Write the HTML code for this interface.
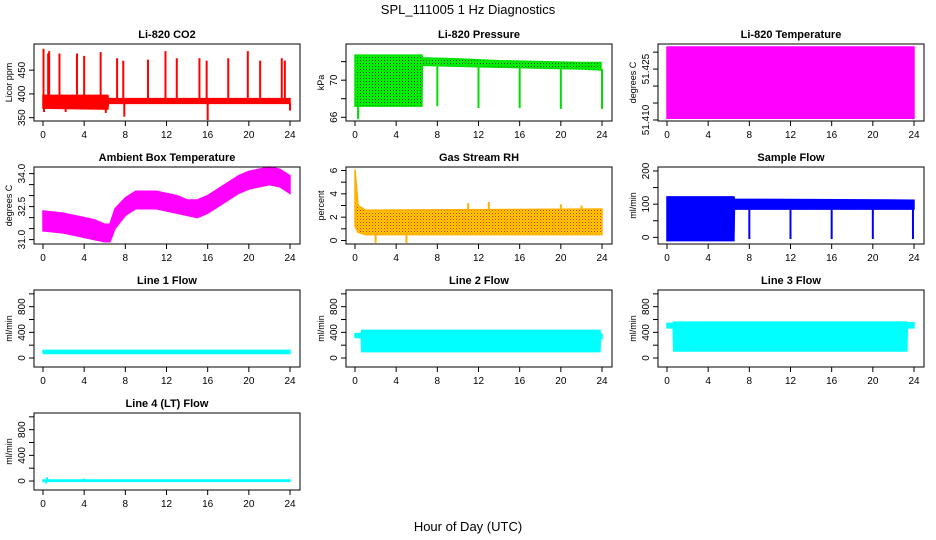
<!DOCTYPE html>
<html><head><meta charset="utf-8"><style>
html,body{margin:0;padding:0;background:#fff}
svg{display:block;font-family:"Liberation Sans",Arial,sans-serif}
</style></head><body>
<svg id="fig" width="936" height="540" viewBox="0 0 936 540">
<defs>
<pattern id="pgreen" width="3" height="3" patternUnits="userSpaceOnUse"><rect width="3" height="3" fill="#00ee00"/><rect width="1" height="1" fill="#004000"/></pattern>
<pattern id="porange" width="3" height="3" patternUnits="userSpaceOnUse"><rect width="3" height="3" fill="#ffd000"/><rect width="1" height="1" fill="#ff2000"/><rect x="1.5" y="1.5" width="1" height="1" fill="#ff6000"/></pattern>
</defs>
<text x="468" y="14" font-size="13" text-anchor="middle">SPL_111005  1 Hz Diagnostics</text>
<text x="468" y="531" font-size="13" text-anchor="middle">Hour of Day (UTC)</text>
</svg>
<script>
// ---- data (hour, low, high) envelopes and spikes [hour, value] ----
const xTicks = [0,4,8,12,16,20,24];
const co2Hours = [0,6.3,6.35,24];
const co2Low = [370,368,380,380];
const co2High = [397,397,390,390];
const co2Spikes = [[0.05,495],[0.5,485],[0.6,490],[1.6,485],[3.3,485],[4.0,480],[5.6,488],[7.2,475],[7.8,470],[10.2,472],[11.9,490],[13.0,475],[15.2,475],[15.9,470],[18.0,475],[19.9,490],[21.1,470],[23.2,475],[23.5,470],[16.0,345],[7.9,352],[0.1,362],[24,365],[2.2,362],[6.1,360]];
const presHours = [0,6.5,6.55,10,14,18,22,23.9];
const presLow = [67.2,67.2,71.6,71.5,71.4,71.3,71.2,71.1];
const presHigh = [72.7,72.7,72.4,72.3,72.1,72.0,71.9,71.9];
const presSpikes = [[0.3,65.8],[8,67.2],[12,67],[16,67],[20,66.9],[24,66.9]];
const tempHours = [0,24];
const tempLow = [51.4105,51.4105];
const tempHigh = [51.4315,51.4315];
const ambHours = [0,2,4,5,6,6.5,7,8,9,11,13,14,15,16,17,18,19,20,21,22,23,24];
const ambLow = [31.4,31.3,31.1,31.0,30.9,30.9,31.5,32.1,32.4,32.4,32.2,32.1,32.0,32.2,32.5,32.8,33.1,33.3,33.4,33.5,33.4,33.1];
const ambHigh = [32.3,32.2,32.0,31.9,31.7,31.7,32.4,32.9,33.2,33.2,33.0,32.8,32.8,33.0,33.3,33.6,33.9,34.1,34.2,34.3,34.2,33.9];
const rhHours = [0,0.3,1,24];
const rhLow = [1.2,0.7,0.5,0.5];
const rhHigh = [6.1,3.0,2.6,2.7];
const rhSpikes = [[2,-0.2],[5,-0.2],[11,3.2],[13,3.3],[20,3.1],[22,3.0]];
const sfHours = [0,6.5,6.55,24];
const sfLow = [-10,-10,85,85];
const sfHigh = [122,122,115,112];
const sfSpikes = [[8,-5],[12,-5],[16,-5],[20,-5],[23.9,-5]];
const l1Hours = [0,24];
const l1Low = [70,70];
const l1High = [120,120];
const l2Hours = [0,0.6,0.65,23.8,23.85,24];
const l2Low = [320,320,100,100,300,300];
const l2High = [380,380,430,430,370,370];
const l3Hours = [0,0.6,0.65,23.3,23.35,24];
const l3Low = [470,470,110,110,470,470];
const l3High = [540,540,560,560,550,550];
const l4Hours = [0,24];
const l4Low = [-5,-5];
const l4High = [15,15];
const l4Spikes = [[0.4,60],[0.3,-40],[4,40]];

const NS = "http://www.w3.org/2000/svg";
const svg = document.getElementById('fig');
function mk(tag, attrs, parent){const e=document.createElementNS(NS,tag);for(const k in attrs)e.setAttribute(k,attrs[k]);(parent||svg).appendChild(e);return e;}

function panel(o){
  const L=o.left, T=o.top, W=266, H=77;
  const g=mk('g',{});
  
  
  const xs=h=>L+9+h*(247/24);
  const ys=v=>T+H-(v-o.ymin)/(o.ymax-o.ymin)*H;
  const t=mk('text',{x:L+W/2,y:T-6,'font-size':11,'font-weight':'bold','text-anchor':'middle'},g);
  t.textContent=o.title;
  
  
  let pts=[];
  for(let i=0;i<o.hours.length;i++)pts.push(xs(o.hours[i])+','+ys(o.high[i]));
  for(let i=o.hours.length-1;i>=0;i--)pts.push(xs(o.hours[i])+','+ys(o.low[i]));
  const band=mk('polygon',{points:pts.join(' '),fill:o.fill||o.color,stroke:o.color,'stroke-width':1.5},g);
  
  
  (o.spikes||[]).forEach(s=>{
    let i=0;while(i<o.hours.length-2&&o.hours[i+1]<s[0])i++;
    const base=s[1]>o.high[i]?o.high[i]:o.low[i];
    const ln=mk('line',{x1:xs(s[0]),x2:xs(s[0]),y1:ys(base),y2:ys(s[1]),stroke:o.color,'stroke-width':2},g);
    
    
  });
  const box=mk('rect',{x:L,y:T,width:W,height:H,fill:'none',stroke:'#000','stroke-width':1},g);
  
  
  xTicks.forEach(h=>{
    mk('line',{x1:xs(h),x2:xs(h),y1:T+H,y2:T+H+5,stroke:'#000'},g);
    const tx=mk('text',{x:xs(h),y:T+H+17,'font-size':10,'text-anchor':'middle'},g);
    tx.textContent=h;
    
    
  });
  o.yticks.forEach(v=>{
    mk('line',{x1:L-5,x2:L,y1:ys(v),y2:ys(v),stroke:'#000'},g);
  });
  o.ylabels.forEach(v=>{
    const y=ys(v);
    const tx=mk('text',{x:L-9,y:y,'font-size':10,'text-anchor':'middle',transform:`rotate(-90 ${L-9} ${y})`},g);
    tx.textContent=o.fmt?o.fmt(v):v;
    
    
  });
  const yl=mk('text',{x:L-22,y:T+H/2,'font-size':9,'text-anchor':'middle',transform:`rotate(-90 ${L-22} ${T+H/2})`},g);
  yl.textContent=o.ylab;
  
  
}
const C=[34,346,658], R=[44,167,290,413];
panel({name:'co2-panel',title:'Li-820 CO2',left:C[0],top:R[0],ymin:343,ymax:505,hours:co2Hours,low:co2Low,high:co2High,spikes:co2Spikes,color:'#ff0000',yticks:[350,400,450],ylabels:[350,400,450],ylab:'Licor ppm'});
panel({name:'pressure-panel',title:'Li-820 Pressure',left:C[1],top:R[0],ymin:65.6,ymax:73.9,hours:presHours,low:presLow,high:presHigh,spikes:presSpikes,color:'#00e000',fill:'url(#pgreen)',yticks:[66,68,70,72],ylabels:[66,70],ylab:'kPa'});
panel({name:'li820-temp-panel',title:'Li-820 Temperature',left:C[2],top:R[0],ymin:51.4097,ymax:51.4324,hours:tempHours,low:tempLow,high:tempHigh,color:'#ff00ff',yticks:[51.410,51.415,51.420,51.425,51.430],ylabels:[51.410,51.425],fmt:v=>v.toFixed(3),ylab:'degrees C'});
panel({name:'ambient-temp-panel',title:'Ambient Box Temperature',left:C[0],top:R[1],ymin:30.8,ymax:34.3,hours:ambHours,low:ambLow,high:ambHigh,color:'#ff00ff',yticks:[31,31.5,32,32.5,33,33.5,34],ylabels:[31,32.5,34],fmt:v=>v.toFixed(1),ylab:'degrees C'});
panel({name:'rh-panel',title:'Gas Stream RH',left:C[1],top:R[1],ymin:-0.3,ymax:6.3,hours:rhHours,low:rhLow,high:rhHigh,spikes:rhSpikes,color:'#ffb000',fill:'url(#porange)',yticks:[0,1,2,3,4,5,6],ylabels:[0,2,4,6],ylab:'percent'});
panel({name:'sample-flow-panel',title:'Sample Flow',left:C[2],top:R[1],ymin:-20,ymax:212,hours:sfHours,low:sfLow,high:sfHigh,spikes:sfSpikes,color:'#0000ff',yticks:[0,50,100,150,200],ylabels:[0,100,200],ylab:'ml/min'});
const fT=[0,200,400,600,800,1000], fL=[0,400,800];
panel({name:'line1-flow-panel',title:'Line 1 Flow',left:C[0],top:R[2],ymin:-140,ymax:1060,hours:l1Hours,low:l1Low,high:l1High,color:'#00ffff',yticks:fT,ylabels:fL,ylab:'ml/min'});
panel({name:'line2-flow-panel',title:'Line 2 Flow',left:C[1],top:R[2],ymin:-140,ymax:1060,hours:l2Hours,low:l2Low,high:l2High,color:'#00ffff',yticks:fT,ylabels:fL,ylab:'ml/min'});
panel({name:'line3-flow-panel',title:'Line 3 Flow',left:C[2],top:R[2],ymin:-140,ymax:1060,hours:l3Hours,low:l3Low,high:l3High,color:'#00ffff',yticks:fT,ylabels:fL,ylab:'ml/min'});
panel({name:'line4-flow-panel',title:'Line 4 (LT) Flow',left:C[0],top:R[3],ymin:-140,ymax:1060,hours:l4Hours,low:l4Low,high:l4High,spikes:l4Spikes,color:'#00ffff',yticks:fT,ylabels:fL,ylab:'ml/min'});
</script>
</body></html>
